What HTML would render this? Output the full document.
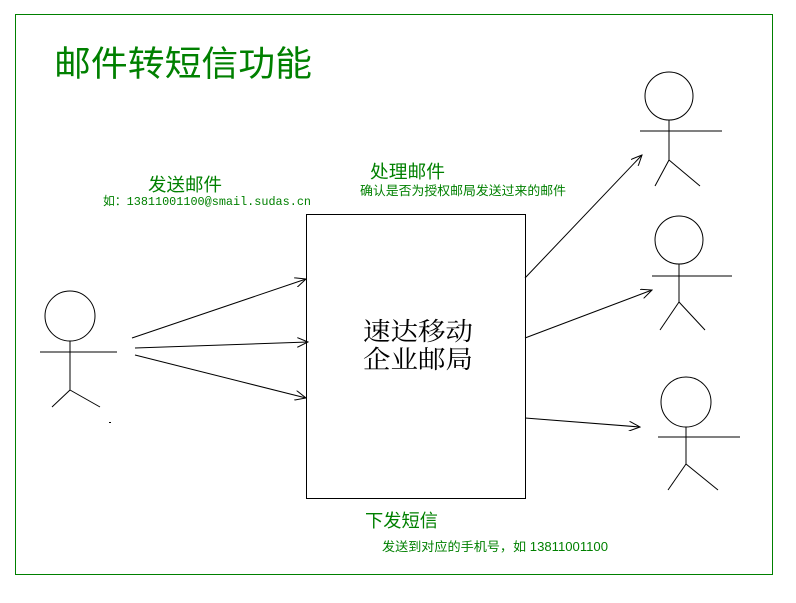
<!DOCTYPE html>
<html><head><meta charset="utf-8"><style>body{margin:0;background:#fff}svg{display:block}</style></head><body>
<svg width="796" height="603" xmlns="http://www.w3.org/2000/svg" font-family="'Liberation Sans','Noto Sans CJK SC',sans-serif">
<defs><marker id="a" markerWidth="12" markerHeight="10" refX="11" refY="5" orient="auto" markerUnits="userSpaceOnUse"><path d="M0,0 L11,5 L0,10" fill="none" stroke="#000" stroke-width="1"/></marker></defs>
<rect x="15.5" y="14.5" width="757" height="560" fill="none" stroke="#008000" stroke-width="1"/>
<text x="54" y="76" font-size="35" fill="#008000" textLength="258" lengthAdjust="spacingAndGlyphs">邮件转短信功能</text>
<g stroke="#000" stroke-width="1" fill="none">
<circle cx="70" cy="316" r="25"/><line x1="70" y1="341" x2="70" y2="390"/><line x1="40" y1="352" x2="117" y2="352"/><line x1="70" y1="390" x2="52" y2="407"/><line x1="70" y1="390" x2="100" y2="407"/>
<circle cx="669" cy="96" r="24"/><line x1="669" y1="120" x2="669" y2="160"/><line x1="640" y1="131" x2="722" y2="131"/><line x1="669" y1="160" x2="655" y2="186"/><line x1="669" y1="160" x2="700" y2="186"/>
<circle cx="679" cy="240" r="24"/><line x1="679" y1="264" x2="679" y2="302"/><line x1="652" y1="276" x2="732" y2="276"/><line x1="679" y1="302" x2="660" y2="330"/><line x1="679" y1="302" x2="705" y2="330"/>
<circle cx="686" cy="402" r="25"/><line x1="686" y1="427" x2="686" y2="464"/><line x1="658" y1="437" x2="740" y2="437"/><line x1="686" y1="464" x2="668" y2="490"/><line x1="686" y1="464" x2="718" y2="490"/>
<rect x="306.5" y="214.5" width="219" height="284"/>
<line x1="132" y1="338" x2="306" y2="279" marker-end="url(#a)"/>
<line x1="135" y1="348" x2="308" y2="342" marker-end="url(#a)"/>
<line x1="135" y1="355" x2="306" y2="398" marker-end="url(#a)"/>
<line x1="525" y1="278" x2="642" y2="155" marker-end="url(#a)"/>
<line x1="525" y1="338" x2="652" y2="290" marker-end="url(#a)"/>
<line x1="525" y1="418" x2="640" y2="427" marker-end="url(#a)"/>
</g>
<rect x="109" y="422" width="2" height="1" fill="#000"/>
<text x="148" y="191" font-size="18" fill="#008000" textLength="74" lengthAdjust="spacingAndGlyphs">发送邮件</text>
<text x="103" y="205" font-size="12" fill="#008000" font-family="'Liberation Mono','Noto Sans CJK SC',monospace" textLength="208" lengthAdjust="spacingAndGlyphs">如：13811001100@smail.sudas.cn</text>
<text x="370" y="178" font-size="18" fill="#008000" textLength="75" lengthAdjust="spacingAndGlyphs">处理邮件</text>
<text x="360" y="195" font-size="12.5" fill="#008000" textLength="206" lengthAdjust="spacingAndGlyphs">确认是否为授权邮局发送过来的邮件</text>
<text x="363" y="340" font-size="25" fill="#000" font-family="'Liberation Serif','Noto Serif CJK SC',serif" textLength="110" lengthAdjust="spacingAndGlyphs">速达移动</text>
<text x="363" y="368" font-size="25" fill="#000" font-family="'Liberation Serif','Noto Serif CJK SC',serif" textLength="110" lengthAdjust="spacingAndGlyphs">企业邮局</text>
<text x="365" y="527" font-size="18" fill="#008000" textLength="73" lengthAdjust="spacingAndGlyphs">下发短信</text>
<text x="382" y="551" font-size="12.5" fill="#008000" textLength="226" lengthAdjust="spacingAndGlyphs">发送到对应的手机号，如 13811001100</text>
</svg>
</body></html>
